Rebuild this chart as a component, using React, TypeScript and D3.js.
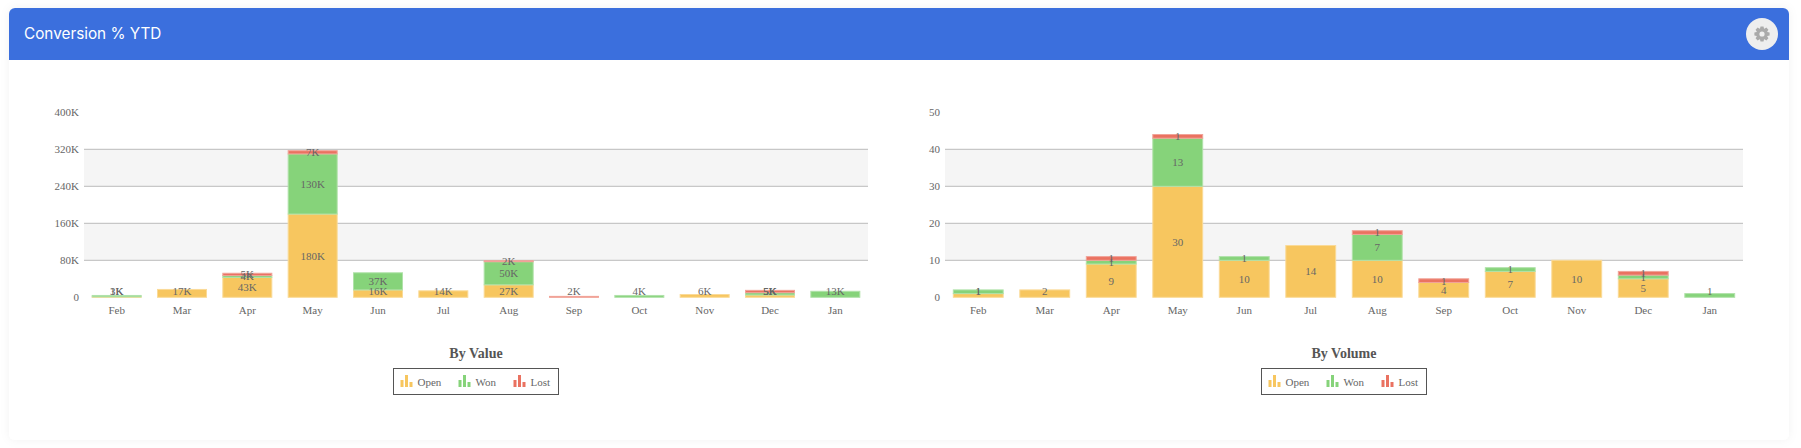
import * as d3 from 'd3';
import React from 'react';

const months = ['Feb', 'Mar', 'Apr', 'May', 'Jun', 'Jul', 'Aug', 'Sep', 'Oct', 'Nov', 'Dec', 'Jan'];
const seriesNames = ['Open', 'Won', 'Lost'];
const seriesColors = ['#f7c65f', '#86d37a', '#ea7261'];

// values in thousands
const valueOpen = [1, 17, 43, 180, 16, 14, 27, 0, 0, 6, 5, 0];
const valueWon = [3, 0, 4, 130, 37, 0, 50, 0, 4, 0, 5, 13];
const valueLost = [0, 0, 5, 7, 0, 0, 2, 2, 0, 0, 5, 0];
const valueTicks = [0, 80, 160, 240, 320, 400];

const volumeOpen = [1, 2, 9, 30, 10, 14, 10, 4, 7, 10, 5, 0];
const volumeWon = [1, 0, 1, 13, 1, 0, 7, 0, 1, 0, 1, 1];
const volumeLost = [0, 0, 1, 1, 0, 0, 1, 1, 0, 0, 1, 0];
const volumeTicks = [0, 10, 20, 30, 40, 50];

const TEXT = '#666';
const SERIF = '"Liberation Serif", "Times New Roman", serif';

const yBottom = 297.3;
const yTop = 112.3;

interface PanelProps {
    left: number,
    right: number,
    title: string,
    open: number[],
    won: number[],
    lost: number[],
    ticks: number[],
    format: (v: number) => string
}

function Panel(props: PanelProps) {
    const { left, right, title, open, won, lost, ticks, format } = props;

    const x = d3.scaleBand<string>()
        .domain(months)
        .range([left, right])
        .paddingInner(0.25)
        .paddingOuter(0.125);

    const y = d3.scaleLinear()
        .domain([ticks[0], ticks[ticks.length - 1]])
        .range([yBottom, yTop]);

    const rows = months.map((m, i) => ({ month: m, Open: open[i], Won: won[i], Lost: lost[i] }));
    const layers = d3.stack<any>().keys(seriesNames)(rows);

    const center = (left + right) / 2;
    const legendLeft = center - 82.5;
    const legendOffsets = [7, 65, 120];

    return (
        <g>
            {/* alternating bands */}
            {ticks.slice(0, -1).map((t, i) => i % 2 === 1 ? (
                <rect key={t} x={left} width={right - left} y={y(ticks[i + 1])}
                    height={y(t) - y(ticks[i + 1])} fill="#f5f5f5" />
            ) : null)}

            {ticks.slice(1, -1).map(t => (
                <line key={t} x1={left} x2={right} y1={y(t)} y2={y(t)} stroke="#bbb" strokeWidth={1} />
            ))}

            {ticks.map(t => (
                <text key={t} x={left - 5} y={y(t)} dy="0.35em" textAnchor="end" fontSize={11}
                    fontFamily={SERIF} fill={TEXT}>{format(t)}</text>
            ))}

            {layers.map((layer, s) => layer.map((d, i) => {
                const h = y(d[0]) - y(d[1]);
                if (h <= 0) return null;
                return (
                    <rect key={s + '-' + i} x={x(months[i])} width={x.bandwidth()} y={y(d[1])} height={h}
                        fill={seriesColors[s]}
                        stroke={d3.interpolateRgb(seriesColors[s], '#fff')(0.35)} strokeWidth={1} />
                );
            }))}

            {layers.map((layer, s) => layer.map((d, i) => {
                const v = d[1] - d[0];
                if (v <= 0) return null;
                // labels are held just above the axis on the short bars
                const ly = Math.min((y(d[0]) + y(d[1])) / 2, yBottom - 6);
                return (
                    <text key={s + '-' + i} x={x(months[i]) + x.bandwidth() / 2} y={ly} dy="0.35em"
                        textAnchor="middle" fontSize={11} fontFamily={SERIF} fill={TEXT}>{format(v)}</text>
                );
            }))}

            {months.map(m => (
                <text key={m} x={x(m) + x.bandwidth() / 2} y={310} dy="0.35em" textAnchor="middle"
                    fontSize={11} fontFamily={SERIF} fill={TEXT}>{m}</text>
            ))}

            <text x={center} y={353} dy="0.35em" textAnchor="middle" fontSize={14} fontWeight="bold"
                fontFamily={SERIF} fill="#555">{title}</text>

            <rect x={legendLeft} y={368.5} width={165} height={26} fill="#fff" stroke="#555" strokeWidth={1} />
            {seriesNames.map((name, s) => {
                const lx = legendLeft + legendOffsets[s];
                return (
                    <g key={name}>
                        <rect x={lx} y={380} width={3} height={7} fill={seriesColors[s]} />
                        <rect x={lx + 4.5} y={375} width={3} height={12} fill={seriesColors[s]} />
                        <rect x={lx + 9} y={382} width={3} height={5} fill={seriesColors[s]} />
                        <text x={lx + 17} y={382} dy="0.35em" fontSize={11} fontFamily={SERIF} fill={TEXT}>{name}</text>
                    </g>
                );
            })}
        </g>
    );
}

function gearPath(cx: number, cy: number) {
    const path = d3.path();
    const teeth = 8;
    for (let i = 0; i < teeth; i++) {
        const a = (i / teeth) * Math.PI * 2;
        const pts = [[2, 5.4], [1.5, 7.6], [-1.5, 7.6], [-2, 5.4]];
        pts.forEach((p, j) => {
            const px = cx + p[0] * Math.cos(a) - p[1] * Math.sin(a);
            const py = cy + p[0] * Math.sin(a) + p[1] * Math.cos(a);
            if (i === 0 && j === 0) path.moveTo(px, py);
            else path.lineTo(px, py);
        });
    }
    path.closePath();
    return path.toString();
}

export default function App() {
    const formatK = (v: number) => v === 0 ? '0' : v + 'K';
    const formatN = (v: number) => String(v);

    return (
        <svg width={1801} height={448} style={{ position: 'absolute', left: 0, top: 0, display: 'block' }}>
            <defs>
                <filter id="cardShadow" x="-2%" y="-5%" width="104%" height="110%">
                    <feDropShadow dx="0" dy="0" stdDeviation="5" floodColor="#000" floodOpacity="0.05" />
                </filter>
            </defs>
            <rect x={9} y={8} width={1780} height={432} rx={6} fill="#fff" filter="url(#cardShadow)" />
            <path d="M9 60V14a6 6 0 0 1 6-6H1783a6 6 0 0 1 6 6V60Z" fill="#3b6fdd" />
            <text x={24} y={34} dy="0.35em" fontSize={15.3} fontFamily="Inter" fill="#fff">Conversion % YTD</text>
            <circle cx={1762} cy={34} r={16} fill="#eee" />
            <path d={gearPath(1762, 34)} fill="#aaa" />
            <circle cx={1762} cy={34} r={2.6} fill="#eee" />

            <Panel left={84} right={868} title="By Value" open={valueOpen} won={valueWon} lost={valueLost}
                ticks={valueTicks} format={formatK} />
            <Panel left={945} right={1743} title="By Volume" open={volumeOpen} won={volumeWon} lost={volumeLost}
                ticks={volumeTicks} format={formatN} />
        </svg>
    );
}
